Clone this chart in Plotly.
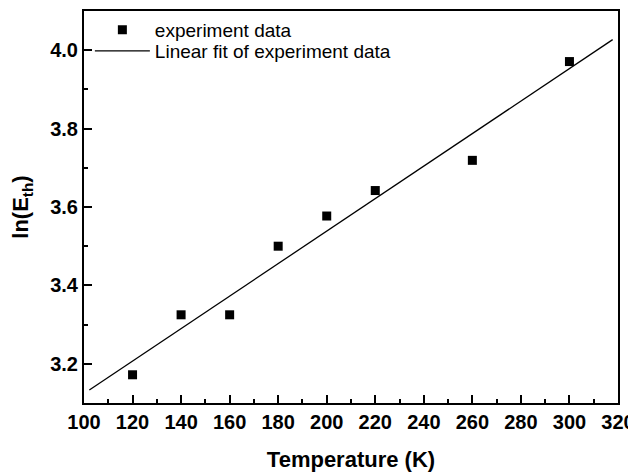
import plotly.graph_objects as go

temperature = [120, 140, 160, 180, 200, 220, 260, 300]
ln_eth = [3.172, 3.325, 3.325, 3.500, 3.577, 3.642, 3.719, 3.971]

fit_x = [102.2, 317.8]
fit_y = [3.133, 4.027]

x_ticks = list(range(100, 321, 20))
y_ticks = [3.2, 3.4, 3.6, 3.8, 4.0]

FONT = "Liberation Sans, Arial, sans-serif"

fig = go.Figure()
fig.add_trace(go.Scatter(
    x=temperature, y=ln_eth, mode="markers", name="experiment data",
    marker=dict(symbol="square", size=9, color="black"),
    legend="legend",
))
fig.add_trace(go.Scatter(
    x=fit_x, y=fit_y, mode="lines", name="Linear fit of experiment data",
    line=dict(color="black", width=1.3),
    legend="legend2",
))

axis_common = dict(
    showgrid=False, zeroline=False, showline=True, linecolor="black",
    linewidth=2, mirror=True, ticks="inside", tickcolor="black",
    ticklen=8, tickwidth=1.5,
    tickfont=dict(family=FONT, size=20, color="black", weight="bold"),
)

fig.update_xaxes(
    range=[100, 320], tickvals=x_ticks, **axis_common,
    minor=dict(ticks="inside", dtick=10, tick0=100, ticklen=4, tickwidth=1.5, tickcolor="black"),
    title=dict(text="Temperature (K)", font=dict(family=FONT, size=22, color="black", weight="bold"), standoff=20),
)
fig.update_yaxes(
    range=[3.1, 4.1], tickvals=y_ticks, tickformat=".1f", **axis_common,
    minor=dict(ticks="inside", dtick=0.1, tick0=3.1, ticklen=4, tickwidth=1.5, tickcolor="black"),
    title=dict(text="ln(E<sub>th</sub>)", font=dict(family=FONT, size=22, color="black", weight="bold"), standoff=15),
)

legend_font = dict(family=FONT, size=19, color="black")
fig.update_layout(
    width=636, height=472,
    margin=dict(l=76, r=26, t=1, b=77),
    paper_bgcolor="white", plot_bgcolor="white",
    showlegend=True,
    legend=dict(x=0.011, y=0.952, xanchor="left", yanchor="middle", itemwidth=55,
                bgcolor="rgba(0,0,0,0)", borderwidth=0, font=legend_font),
    legend2=dict(x=0.011, y=0.898, xanchor="left", yanchor="middle", itemwidth=55,
                 bgcolor="rgba(0,0,0,0)", borderwidth=0, font=legend_font),
)

fig.write_html("out.html")
